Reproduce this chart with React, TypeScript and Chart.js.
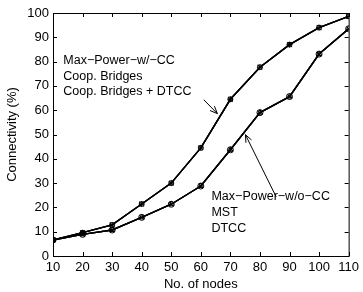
import React, { useEffect, useRef } from "react";
import { Chart, registerables } from "chart.js";

Chart.register(...registerables);

const nodes = [10, 20, 30, 40, 50, 60, 70, 80, 90, 100, 110];
const withCC = [6.6, 9.6, 12.8, 21.4, 30, 44.5, 64.5, 77.7, 87, 94, 98.6];
const withoutCC = [6.6, 8.9, 10.7, 15.9, 21.3, 28.8, 43.7, 59, 65.6, 83.1, 93.5];

const upperNames = ["Max\u2212Power\u2212w/\u2212CC", "Coop. Bridges", "Coop. Bridges + DTCC"];
const lowerNames = ["Max\u2212Power\u2212w/o\u2212CC", "MST", "DTCC"];
const upperStyles = ["rect", "crossRot", "cross"];
const lowerStyles = ["triangle", "circle", "crossRot"];

// annotation anchors in data coordinates
const upperTextAt = { x: 13.5, y: [80.3, 74.0, 67.8] };
const lowerTextAt = { x: 63.6, y: [24.4, 17.8, 11.2] };
const upperArrow = { from: [61.0, 64.3], to: [65.6, 58.6] };
const lowerArrow = { from: [85.5, 24.3], to: [75.1, 49.9] };

const FONT = "'Liberation Sans', Arial, Helvetica, sans-serif";

export default function App() {
  const ref = useRef<HTMLCanvasElement | null>(null);

  useEffect(() => {
    document.body.style.margin = "0";
    const canvas = ref.current;
    if (!canvas) return;

    const frame = {
      id: "frame",
      afterDraw(chart: any) {
        const ctx = chart.ctx;
        const { left, right, top, bottom } = chart.chartArea;
        const xs = chart.scales.x;
        const ys = chart.scales.y;
        ctx.save();
        ctx.strokeStyle = "#000";
        ctx.lineWidth = 1;
        ctx.strokeRect(left + 0.5, top + 0.5, right - left, bottom - top);
        const tl = 4;
        ctx.beginPath();
        for (const v of nodes) {
          const px = Math.round(xs.getPixelForValue(v)) + 0.5;
          ctx.moveTo(px, bottom);
          ctx.lineTo(px, bottom - tl);
          ctx.moveTo(px, top);
          ctx.lineTo(px, top + tl);
        }
        for (let v = 0; v <= 100; v += 10) {
          const py = Math.round(ys.getPixelForValue(v)) + 0.5;
          ctx.moveTo(left, py);
          ctx.lineTo(left + tl, py);
          ctx.moveTo(right, py);
          ctx.lineTo(right - tl, py);
        }
        ctx.stroke();

        // annotations
        ctx.fillStyle = "#000";
        ctx.font = `12.5px ${FONT}`;
        ctx.textBaseline = "middle";
        ctx.textAlign = "left";
        upperNames.forEach((t, i) => {
          ctx.fillText(t, xs.getPixelForValue(upperTextAt.x), ys.getPixelForValue(upperTextAt.y[i]));
        });
        lowerNames.forEach((t, i) => {
          ctx.fillText(t, xs.getPixelForValue(lowerTextAt.x), ys.getPixelForValue(lowerTextAt.y[i]));
        });

        const arrow = (a: { from: number[]; to: number[] }) => {
          const x1 = xs.getPixelForValue(a.from[0]);
          const y1 = ys.getPixelForValue(a.from[1]);
          const x2 = xs.getPixelForValue(a.to[0]);
          const y2 = ys.getPixelForValue(a.to[1]);
          const ang = Math.atan2(y2 - y1, x2 - x1);
          const hl = 8;
          ctx.beginPath();
          ctx.lineWidth = 1;
          ctx.moveTo(x1, y1);
          ctx.lineTo(x2, y2);
          ctx.moveTo(x2 - hl * Math.cos(ang - 0.4), y2 - hl * Math.sin(ang - 0.4));
          ctx.lineTo(x2, y2);
          ctx.lineTo(x2 - hl * Math.cos(ang + 0.4), y2 - hl * Math.sin(ang + 0.4));
          ctx.stroke();
        };
        arrow(upperArrow);
        arrow(lowerArrow);
        ctx.restore();
      },
    };

    const mk = (label: string, data: number[], style: string) => ({
      label,
      data: nodes.map((x, i) => ({ x, y: data[i] })),
      borderColor: "#000",
      backgroundColor: "rgba(0,0,0,0)",
      borderWidth: 1.4,
      pointStyle: style,
      pointRadius: 3,
      pointBorderWidth: 1,
      pointBorderColor: "#000",
      pointBackgroundColor: "rgba(0,0,0,0)",
      tension: 0,
      fill: false,
    });

    const datasets = [
      ...upperNames.map((n, i) => mk(n, withCC, upperStyles[i])),
      ...lowerNames.map((n, i) => mk(n, withoutCC, lowerStyles[i])),
    ];

    const chart = new Chart(canvas, {
      type: "line",
      data: { datasets },
      options: {
        animation: false,
        responsive: false,
        maintainAspectRatio: false,
        layout: { padding: { top: 13, right: 12, left: 0, bottom: 0 } },
        plugins: { legend: { display: false }, tooltip: { enabled: false } },
        scales: {
          x: {
            type: "linear",
            min: 10,
            max: 110,
            afterFit: (s: any) => {
              s.height = 36;
            },
            ticks: {
              stepSize: 10,
              color: "#000",
              padding: 4,
              maxRotation: 0,
              font: { family: FONT, size: 13 },
            },
            grid: { display: false, drawTicks: false },
            border: { display: false },
            title: {
              display: true,
              text: "No. of nodes",
              color: "#000",
              padding: { top: 0, bottom: 0 },
              font: { family: FONT, size: 13 },
            },
          },
          y: {
            type: "linear",
            min: 0,
            max: 100,
            afterFit: (s: any) => {
              s.width = 53;
            },
            ticks: {
              stepSize: 10,
              color: "#000",
              padding: 4,
              font: { family: FONT, size: 13 },
            },
            grid: { display: false, drawTicks: false },
            border: { display: false },
            title: {
              display: true,
              text: "Connectivity (%)",
              color: "#000",
              padding: { top: 5, bottom: 0 },
              font: { family: FONT, size: 13 },
            },
          },
        },
      },
      plugins: [frame],
    } as any);

    return () => chart.destroy();
  }, []);

  return <canvas ref={ref} width={363} height={292} style={{ display: "block" }} />;
}
